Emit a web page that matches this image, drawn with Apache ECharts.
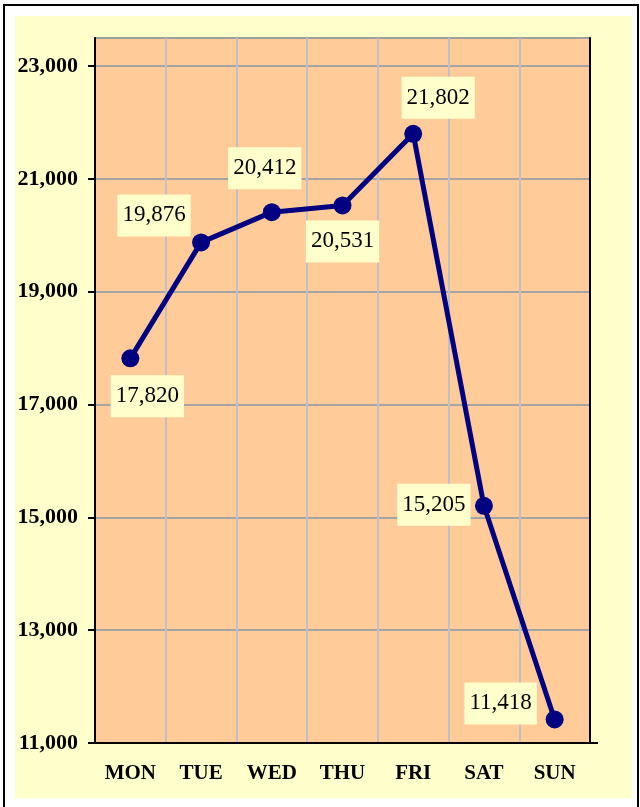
<!DOCTYPE html>
<html>
<head>
<meta charset="utf-8">
<script src="https://cdn.jsdelivr.net/npm/echarts@6/dist/echarts.min.js"></script>
<style>
  html, body { margin: 0; padding: 0; background: #fff; }
  .frame {
    position: absolute; left: 3px; top: 4px; width: 636px; height: 810px;
    border-left: 2px solid #000; border-top: 2px solid #000; border-right: 2px solid #000;
    box-sizing: border-box;
  }
  .panel {
    position: absolute; left: 15px; top: 16px; width: 617px; height: 782px;
    background: #FFFFCC;
  }
  #chart { position: absolute; left: 0; top: 0; width: 640px; height: 807px; }
</style>
</head>
<body>
<div class="frame"></div>
<div class="panel"></div>
<div id="chart"></div>
<script>
const days = ['MON', 'TUE', 'WED', 'THU', 'FRI', 'SAT', 'SUN']
const visitors = [17820, 19876, 20412, 20531, 21802, 15205, 11418]
const yTicks = [11000, 13000, 15000, 17000, 19000, 21000, 23000]

// label placement relative to each point (px)
const labelOffsets = [[17, 38], [-47, -27], [-7, -44], [0, 36], [25, -36], [-50, -1], [-54, -16]]

const serif = "'Times New Roman', 'Liberation Serif', serif"
const navy = '#000080'

const chart = echarts.init(document.getElementById('chart'))

chart.setOption({
  animation: false,
  grid: {
    left: 95, top: 38, width: 495, height: 705,
    show: true,
    backgroundColor: '#FFCC99',
    borderColor: '#A0A0A0',
    borderWidth: 2
  },
  xAxis: {
    type: 'category',
    data: days,
    boundaryGap: true,
    axisLine: { lineStyle: { color: '#000', width: 2 } },
    axisTick: { length: 8, lineStyle: { color: '#000', width: 2 } },
    axisLabel: {
      margin: 20, color: '#000', fontFamily: serif, fontWeight: 'bold', fontSize: 21
    },
    splitLine: { show: true, lineStyle: { color: '#C0C0C4', width: 2 } }
  },
  yAxis: [{
    type: 'value',
    min: 11000,
    max: 23500,
    interval: 2000,
    axisLine: { show: true, lineStyle: { color: '#000', width: 2 } },
    axisTick: { show: true, length: 7, customValues: yTicks, lineStyle: { color: '#000', width: 2 } },
    axisLabel: {
      customValues: yTicks,
      margin: 17, color: '#000', fontFamily: serif, fontWeight: 'bold', fontSize: 22,
      formatter: v => v.toLocaleString('en-US')
    },
    splitLine: { show: true, lineStyle: { color: '#A4A4A4', width: 2 } }
  }, {
    type: 'value',
    position: 'right',
    min: 11000,
    max: 23500,
    interval: 2000,
    axisLine: { show: true, lineStyle: { color: '#000', width: 2 } },
    axisTick: { show: true, length: 8, customValues: [11000], lineStyle: { color: '#000', width: 2 } },
    axisLabel: { show: false },
    splitLine: { show: false }
  }],
  series: [{
    type: 'line',
    data: visitors.map((v, i) => ({ value: v, label: { offset: labelOffsets[i] } })),
    symbol: 'circle',
    symbolSize: 18,
    lineStyle: { color: navy, width: 5 },
    itemStyle: { color: navy },
    label: {
      show: true,
      position: 'inside',
      formatter: p => p.value.toLocaleString('en-US'),
      fontFamily: serif,
      fontSize: 23,
      lineHeight: 24,
      color: '#000',
      backgroundColor: '#FFFFCC',
      padding: [9, 5]
    }
  }]
})
</script>
</body>
</html>
